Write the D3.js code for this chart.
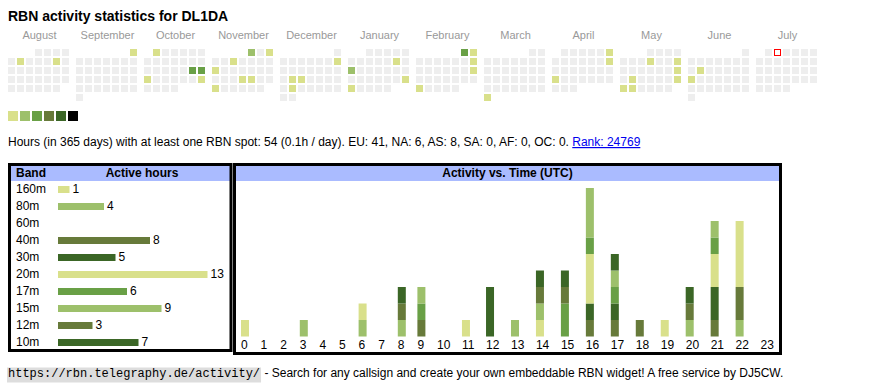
<!DOCTYPE html>
<head>
<meta charset="utf-8">
<script src="https://d3js.org/d3.v7.min.js"></script>
<style>
body { margin:0; background:#fff; }
svg { font-family: "Liberation Sans", Arial, sans-serif; }
</style>
</head>
<body>
<script>
// colour levels (legend) and band colours
var palette = ["#d9e08b", "#9dc06b", "#69a046", "#677a3a", "#3b6626", "#000000"];

// calendar: months shown and days with activity (date, level)
var monthNames = ["August", "September", "October", "November", "December", "January",
                  "February", "March", "April", "May", "June", "July"];
var firstMonth = "2024-08-01", lastMonth = "2025-08-01", today = "2025-07-02";
var activeDays = [
  ["2024-08-06", 1], ["2024-08-10", 1], ["2024-09-01", 1],
  ["2024-10-01", 1], ["2024-10-19", 3], ["2024-10-20", 3], ["2024-10-21", 1], ["2024-10-27", 1],
  ["2024-11-01", 2], ["2024-11-03", 1], ["2024-11-06", 1], ["2024-11-11", 1], ["2024-11-21", 1],
  ["2024-11-22", 1], ["2024-11-25", 1],
  ["2024-12-08", 1], ["2024-12-17", 1], ["2024-12-18", 1], ["2024-12-24", 1],
  ["2025-01-11", 1], ["2025-01-13", 2], ["2025-01-26", 1], ["2025-01-27", 1],
  ["2025-02-01", 3], ["2025-02-02", 1], ["2025-02-09", 1], ["2025-02-16", 1], ["2025-02-24", 1],
  ["2025-03-31", 1], ["2025-04-06", 1], ["2025-04-13", 1], ["2025-04-21", 1],
  ["2025-05-08", 1], ["2025-05-11", 1], ["2025-05-18", 1], ["2025-05-20", 1], ["2025-05-25", 1],
  ["2025-05-26", 1], ["2025-05-27", 1],
  ["2025-06-10", 1], ["2025-06-16", 1]
];

// bands, active hours per band, colour index
var bands = ["160m", "80m", "60m", "40m", "30m", "20m", "17m", "15m", "12m", "10m"];
var bandHoursTotal = [1, 4, 0, 8, 5, 13, 6, 9, 3, 7];
var bandColor = [0, 1, 2, 3, 4, 0, 2, 1, 3, 4];

// active hours per UTC hour, one array per band (hour 0..23)
var hours = d3.range(24);
var h160 = [0,0,0,0,0,0,0,0,0,0,0,0,0,0,1,0,0,0,0,0,0,0,0,0];
var h80  = [0,0,0,0,0,0,1,0,1,0,0,0,0,0,1,0,0,0,0,0,0,0,1,0];
var h60  = [0,0,0,0,0,0,0,0,0,0,0,0,0,0,0,0,0,0,0,0,0,0,0,0];
var h40  = [0,0,0,0,0,0,0,0,1,1,0,0,0,0,1,0,1,1,0,0,0,1,2,0];
var h30  = [0,0,0,0,0,0,0,0,0,0,0,0,0,0,1,0,1,1,0,0,0,2,0,0];
var h20  = [1,0,0,0,0,0,1,0,0,0,0,1,0,0,0,0,3,0,0,1,0,2,4,0];
var h17  = [0,0,0,0,0,0,0,0,0,1,0,0,0,0,0,2,1,1,0,0,0,1,0,0];
var h15  = [0,0,0,1,0,0,0,0,0,1,0,0,0,1,0,0,3,1,0,0,1,1,0,0];
var h12  = [0,0,0,0,0,0,0,0,0,0,0,0,0,0,0,1,0,0,1,0,1,0,0,0];
var h10  = [0,0,0,0,0,0,0,0,1,0,0,0,3,0,0,1,0,1,0,0,1,0,0,0];
var bandHours = [h160, h80, h60, h40, h30, h20, h17, h15, h12, h10];

var svg = d3.select("body").append("svg")
    .attr("width", 870)
    .attr("height", 390);

// title
svg.append("text")
    .attr("x", 8).attr("y", 20.5)
    .style("font-size", "14px").style("font-weight", "bold")
    .text("RBN activity statistics for DL1DA");

// ---- calendar ----
var parse = d3.timeParse("%Y-%m-%d"), fmt = d3.timeFormat("%Y-%m-%d");
var level = new Map(activeDays);
var monthStarts = d3.timeMonth.range(parse(firstMonth), parse(lastMonth));
var monthX = d3.scaleLinear().domain([0, 1]).range([8, 76]);
var cellStep = d3.scaleLinear().domain([0, 1]).range([0, 9]);
var weekday = d => (d.getDay() + 6) % 7;

monthStarts.forEach((m, i) => {
  var bx = monthX(i);
  var off = weekday(m);
  svg.append("text")
      .attr("x", bx + 31.5).attr("y", 39)
      .attr("text-anchor", "middle")
      .attr("fill", "#999")
      .style("font-size", "11px")
      .text(monthNames[i]);
  svg.append("g").selectAll("rect")
    .data(d3.timeDay.range(m, d3.timeMonth.offset(m, 1)))
    .join("rect")
      .attr("x", d => bx + cellStep(weekday(d)))
      .attr("y", d => 49 + cellStep(Math.floor((d.getDate() - 1 + off) / 7)))
      .attr("width", 7).attr("height", 7)
      .attr("fill", d => level.has(fmt(d)) ? palette[level.get(fmt(d)) - 1] : "#eee")
      .attr("stroke", d => fmt(d) === today ? "red" : "none")
      .each(function(d) {
        if (fmt(d) === today) {
          d3.select(this).attr("fill", "#fff")
            .attr("x", +this.getAttribute("x") + 0.5).attr("y", +this.getAttribute("y") + 0.5)
            .attr("width", 6).attr("height", 6);
        }
      });
});

// legend
svg.append("g").selectAll("rect")
  .data(palette)
  .join("rect")
    .attr("x", (d, i) => 8 + i * 12).attr("y", 111)
    .attr("width", 10).attr("height", 10)
    .attr("fill", d => d);

// stats line
var stats = svg.append("text")
    .attr("x", 8).attr("y", 146)
    .style("font-size", "12px");
stats.append("tspan")
    .text("Hours (in 365 days) with at least one RBN spot: 54 (0.1h / day). EU: 41, NA: 6, AS: 8, SA: 0, AF: 0, OC: 0. ");
stats.append("tspan")
    .attr("fill", "#0000ee")
    .style("text-decoration", "underline")
    .text("Rank: 24769");

// ---- band table ----
svg.append("rect").attr("x", 11).attr("y", 166).attr("width", 219).attr("height", 15).attr("fill", "#aabbff");
svg.append("rect").attr("x", 9.5).attr("y", 164.5).attr("width", 221.5).attr("height", 186)
    .attr("fill", "none").attr("stroke", "#000").attr("stroke-width", 3);
svg.append("text").attr("x", 16).attr("y", 176.5)
    .style("font-size", "12px").style("font-weight", "bold").text("Band");
svg.append("text").attr("x", 142).attr("y", 176.5).attr("text-anchor", "middle")
    .style("font-size", "12px").style("font-weight", "bold").text("Active hours");

var rowY = d3.scaleLinear().domain([0, 1]).range([193, 210]);
var xb = d3.scaleLinear().domain([0, 13]).range([58, 207.5]);

var rows = svg.append("g").selectAll("g")
  .data(bands)
  .join("g");
rows.append("text")
    .attr("x", 16).attr("y", (d, i) => rowY(i))
    .style("font-size", "12px")
    .text(d => d);
rows.filter((d, i) => bandHoursTotal[i] > 0).each(function(d) {
  var i = bands.indexOf(d);
  var g = d3.select(this);
  g.append("rect")
      .attr("x", xb(0)).attr("y", rowY(i) - 7)
      .attr("width", xb(bandHoursTotal[i]) - xb(0)).attr("height", 7)
      .attr("fill", palette[bandColor[i]]);
  g.append("text")
      .attr("x", xb(bandHoursTotal[i]) + 3).attr("y", rowY(i))
      .style("font-size", "12px")
      .text(bandHoursTotal[i]);
});

// ---- activity vs time ----
svg.append("rect").attr("x", 236).attr("y", 166).attr("width", 543).attr("height", 15).attr("fill", "#aabbff");
svg.append("rect").attr("x", 234.5).attr("y", 164.5).attr("width", 546).attr("height", 189)
    .attr("fill", "none").attr("stroke", "#000").attr("stroke-width", 3);
svg.append("text").attr("x", 507.5).attr("y", 176.5).attr("text-anchor", "middle")
    .style("font-size", "12px").style("font-weight", "bold").text("Activity vs. Time (UTC)");

// hour labels; column widths follow the label width like a table
var hourLabels = svg.append("g").selectAll("text")
  .data(hours)
  .join("text")
    .attr("y", 349)
    .style("font-size", "12px")
    .text(d => d);
var lefts = [], cx = 241;
hourLabels.each(function() {
  lefts.push(cx);
  cx += Math.max(8, this.getComputedTextLength()) + 11.6;
});
var x = d3.scaleOrdinal().domain(hours).range(lefts);
hourLabels.attr("x", d => x(d));

var y = d3.scaleLinear().domain([0, 9]).range([336.5, 188]);

var table = hours.map(h => {
  var o = {hour: h};
  bands.forEach((b, j) => o[b] = bandHours[j][h]);
  return o;
});
var series = d3.stack().keys(bands)(table);

svg.append("g").selectAll("g")
  .data(series)
  .join("g")
    .attr("fill", (d, i) => palette[bandColor[i]])
  .selectAll("rect")
  .data(d => d.filter(s => s[1] > s[0]))
  .join("rect")
    .attr("x", d => x(d.data.hour))
    .attr("y", d => y(d[1]))
    .attr("width", 8)
    .attr("height", d => y(d[0]) - y(d[1]));

// footer
var urlBg = svg.append("rect")
    .attr("x", 7).attr("y", 367.5)
    .attr("height", 15)
    .attr("fill", "#ddd");
var url = svg.append("text")
    .attr("x", 8).attr("y", 377)
    .style("font-family", "'Liberation Mono', monospace")
    .style("font-size", "12px")
    .text("https://rbn.telegraphy.de/activity/");
var urlW = url.node().getComputedTextLength();
urlBg.attr("width", urlW + 2);
svg.append("text")
    .attr("x", 8 + urlW + 1).attr("y", 377)
    .style("font-size", "12px")
    .style("white-space", "pre")
    .text(" - Search for any callsign and create your own embeddable RBN widget! A free service by DJ5CW.");
</script>
</body>
